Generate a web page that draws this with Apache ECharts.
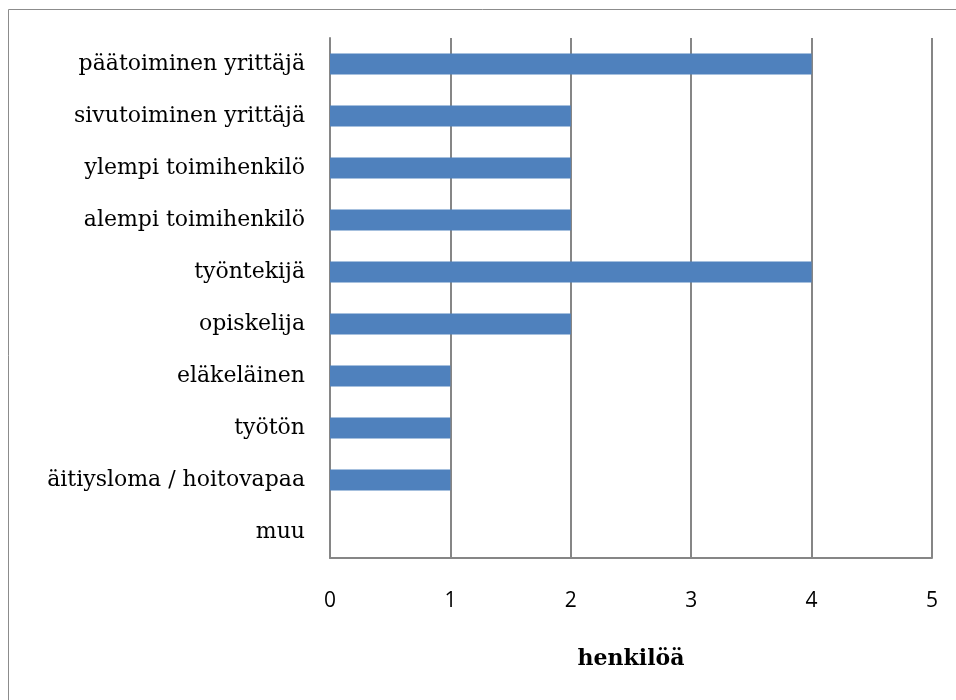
<!DOCTYPE html>
<html>
<head>
<meta charset="utf-8">
<script src="https://cdn.jsdelivr.net/npm/echarts@6/dist/echarts.min.js"></script>
<style>
  html, body { margin: 0; padding: 0; background: #fff; }
  #main { width: 956px; height: 700px; }
</style>
</head>
<body>
<div id="main"></div>
<script>
// categories top to bottom as in the picture
const categories = [
  'päätoiminen yrittäjä',
  'sivutoiminen yrittäjä',
  'ylempi toimihenkilö',
  'alempi toimihenkilö',
  'työntekijä',
  'opiskelija',
  'eläkeläinen',
  'työtön',
  'äitiysloma / hoitovapaa',
  'muu'
]
const counts = [4, 2, 2, 2, 4, 2, 1, 1, 1, 0]
const axisTitle = 'henkilöä'

const chart = echarts.init(document.getElementById('main'))

chart.setOption({
  animation: false,
  backgroundColor: '#fff',
  graphic: [{
    type: 'rect',
    shape: { x: 8.5, y: 9.5, width: 1000, height: 1000 },
    style: { fill: 'none', stroke: '#8c8c8c', lineWidth: 1 },
    silent: true
  }],
  grid: {
    left: 330,
    right: 24,
    top: 38,
    bottom: 142
  },
  xAxis: {
    type: 'value',
    min: 0,
    max: 5,
    interval: 1,
    name: axisTitle,
    nameLocation: 'middle',
    nameGap: 90,
    nameTextStyle: {
      fontFamily: 'DejaVu Serif',
      fontWeight: 'bold',
      fontSize: 22,
      color: '#000'
    },
    axisLine: { show: true, lineStyle: { color: '#868686', width: 2 } },
    axisTick: { show: false },
    splitLine: { show: true, lineStyle: { color: '#868686', width: 2 } },
    axisLabel: {
      margin: 33,
      fontFamily: 'Open Sans',
      fontSize: 21,
      color: '#000'
    }
  },
  yAxis: {
    type: 'category',
    data: categories,
    inverse: true,
    axisLine: { show: true, lineStyle: { color: '#868686', width: 2 } },
    axisTick: { show: false },
    axisLabel: {
      margin: 25,
      fontFamily: 'DejaVu Serif',
      fontSize: 22,
      color: '#000'
    }
  },
  series: [{
    type: 'bar',
    data: counts,
    barCategoryGap: '60%',
    itemStyle: { color: '#4F81BD' }
  }]
})
</script>
</body>
</html>
